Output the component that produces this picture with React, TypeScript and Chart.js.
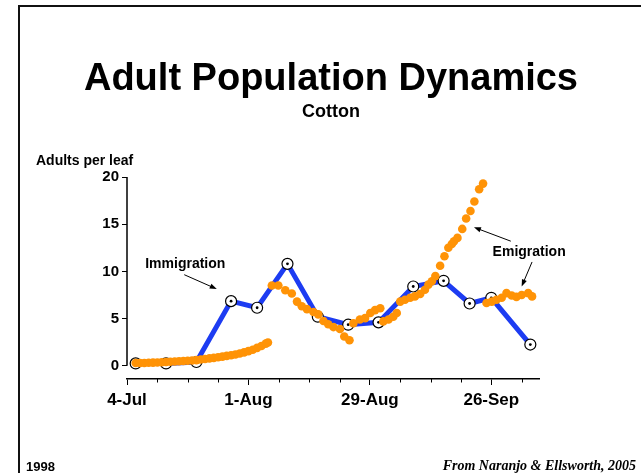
import React, { useEffect, useRef } from 'react';
import { Chart, registerables } from 'chart.js';

Chart.register(...registerables);

// ---- Data ----
const xTickDays = [0, 28, 56, 84];
const xTickLabels = ['4-Jul', '1-Aug', '29-Aug', '26-Sep'];
const yTickValues = [0, 5, 10, 15, 20];

// Observed adults per leaf (days after 4-Jul)
const blueDays = [2, 9, 16, 24, 30, 37, 44, 51, 58, 66, 73, 79, 84, 93];
const blueValues = [0.25, 0.25, 0.4, 6.85, 6.15, 10.8, 5.2, 4.35, 4.6, 8.4, 9.0, 6.6, 7.2, 2.25];

// Simulated adults per leaf (days after 4-Jul)
const orangeDays = [
  2, 3, 4, 5, 6, 7, 8, 9, 10, 11, 12, 13, 14, 15, 16, 17, 18, 19, 20, 21, 22, 23, 24, 25, 26, 27, 28, 29, 30, 31, 32, 32.5,
  33.4, 34.9, 36.5, 38.0, 39.2, 40.3, 41.5, 43.0, 44.1, 45.3, 46.4, 47.6, 49.1, 50.1, 51.3,
  52.2, 53.7, 54.9, 56.1, 57.2, 58.4,
  59.1, 60.3, 61.4, 62.2, 63.0, 64.1, 65.3, 66.4, 67.6, 68.7, 69.5, 70.3, 71.1,
  72.2, 73.2, 74.1, 74.9, 75.4, 76.2, 77.3, 78.2, 79.2, 80.1, 81.2, 82.1,
  82.9, 84.1, 85.2, 86.4, 87.5, 88.7, 89.8, 91.0, 92.5, 93.4,
];
const orangeValues = [
  0.3, 0.3, 0.3, 0.32, 0.33, 0.35, 0.37, 0.4, 0.42, 0.45, 0.48, 0.5, 0.53, 0.56, 0.6, 0.66, 0.72, 0.78, 0.84, 0.9, 0.97, 1.05, 1.12, 1.2, 1.3, 1.42, 1.55, 1.7, 1.9, 2.1, 2.35, 2.47,
  8.5, 8.5, 8.0, 7.65, 6.8, 6.3, 6.0, 5.7, 5.45, 4.74, 4.4, 4.1, 3.9, 3.1, 2.7,
  4.5, 4.9, 5.05, 5.6, 5.9, 6.1,
  4.7, 4.9, 5.2, 5.6, 6.8, 7.0, 7.2, 7.35, 7.6, 8.05, 8.6, 8.95, 9.5,
  10.6, 11.6, 12.5, 12.9, 13.2, 13.55, 14.5, 15.6, 16.4, 17.4, 18.7, 19.3,
  6.65, 6.8, 7.0, 7.2, 7.7, 7.45, 7.3, 7.5, 7.7, 7.35,
];

// Annotation labels (data coordinates)
const noteTexts = ['Immigration', 'Emigration'];
const noteDays = [4.2, 84.3];
const noteValues = [10.8, 12.0];
// Arrows: from -> to (data coordinates)
const arrowFromDays = [13.2, 88.5, 93.4];
const arrowFromValues = [9.65, 13.2, 11.0];
const arrowToDays = [20.7, 80.0, 91.0];
const arrowToValues = [8.13, 14.67, 8.4];

const SANS = '"Liberation Sans", Arial, Helvetica, sans-serif';
const BLUE = '#1d3cf2';
const ORANGE = '#ff9306';

const decorPlugin = {
  id: 'decor',
  beforeDatasetsDraw(chart: any) {
    const { ctx, scales } = chart;
    const x = scales.x;
    const y = scales.y;
    ctx.save();
    ctx.strokeStyle = '#000';
    ctx.lineWidth = 1.5;
    // y axis line from 20 down to 0
    const x0 = chart.chartArea.left;
    ctx.beginPath();
    ctx.moveTo(x0, y.getPixelForValue(20));
    ctx.lineTo(x0, y.getPixelForValue(0));
    ctx.stroke();
    // minor x ticks every week
    ctx.lineWidth = 1;
    for (let d = 7; d <= 91; d += 7) {
      if (d % 28 === 0) continue;
      const px = Math.round(x.getPixelForValue(d)) + 0.5;
      ctx.beginPath();
      ctx.moveTo(px, x.top);
      ctx.lineTo(px, x.top + 3.5);
      ctx.stroke();
    }
    ctx.restore();
  },
  afterDatasetsDraw(chart: any) {
    const { ctx, scales } = chart;
    const x = scales.x;
    const y = scales.y;
    ctx.save();
    ctx.fillStyle = '#000';
    ctx.font = `bold 14px ${SANS}`;
    ctx.textAlign = 'left';
    ctx.textBaseline = 'middle';
    noteTexts.forEach((t, i) => {
      ctx.fillText(t, x.getPixelForValue(noteDays[i]), y.getPixelForValue(noteValues[i]));
    });
    ctx.strokeStyle = '#000';
    ctx.lineWidth = 1;
    arrowFromDays.forEach((_, i) => {
      const fx = x.getPixelForValue(arrowFromDays[i]);
      const fy = y.getPixelForValue(arrowFromValues[i]);
      const tx = x.getPixelForValue(arrowToDays[i]);
      const ty = y.getPixelForValue(arrowToValues[i]);
      const ang = Math.atan2(ty - fy, tx - fx);
      const hl = 7;
      const hw = 2.6;
      ctx.beginPath();
      ctx.moveTo(fx, fy);
      ctx.lineTo(tx - Math.cos(ang) * hl * 0.8, ty - Math.sin(ang) * hl * 0.8);
      ctx.stroke();
      ctx.beginPath();
      ctx.moveTo(tx, ty);
      ctx.lineTo(tx - Math.cos(ang) * hl - Math.sin(ang) * hw, ty - Math.sin(ang) * hl + Math.cos(ang) * hw);
      ctx.lineTo(tx - Math.cos(ang) * hl + Math.sin(ang) * hw, ty - Math.sin(ang) * hl - Math.cos(ang) * hw);
      ctx.closePath();
      ctx.fill();
    });
    ctx.restore();
  },
};

export default function App() {
  const canvasRef = useRef<HTMLCanvasElement>(null);

  useEffect(() => {
    const canvas = canvasRef.current;
    if (!canvas) return;
    const bluePts = blueDays.map((d, i) => ({ x: d, y: blueValues[i] }));
    const orangePts = orangeDays.map((d, i) => ({ x: d, y: orangeValues[i] }));
    const chart = new Chart(canvas, {
      type: 'scatter',
      data: {
        datasets: [
          {
            label: 'Simulated',
            data: orangePts,
            showLine: false,
            pointRadius: 4.3,
            pointBackgroundColor: ORANGE,
            pointBorderWidth: 0,
            pointBorderColor: ORANGE,
            order: 0,
            clip: false,
          } as any,
          {
            label: 'Observed centers',
            data: bluePts,
            showLine: false,
            pointRadius: 1.4,
            pointBackgroundColor: '#000',
            pointBorderWidth: 0,
            order: 1,
            clip: false,
          } as any,
          {
            label: 'Observed',
            data: bluePts,
            showLine: true,
            borderColor: BLUE,
            borderWidth: 5,
            pointRadius: 5.5,
            pointBackgroundColor: '#fff',
            pointBorderColor: '#000',
            pointBorderWidth: 1.2,
            order: 2,
            clip: false,
          } as any,
        ],
      },
      options: {
        animation: false,
        responsive: false,
        events: [],
        layout: { padding: { left: 86, right: 102, top: 177, bottom: 54 } },
        plugins: {
          legend: { display: false },
          tooltip: { enabled: false },
          title: { display: false },
        },
        scales: {
          x: {
            type: 'linear',
            min: 0,
            max: 95,
            afterBuildTicks: (scale: any) => {
              scale.ticks = xTickDays.map((v) => ({ value: v }));
            },
            afterFit: (scale: any) => {
              scale.height = 40;
            },
            ticks: {
              autoSkip: false,
              maxRotation: 0,
              padding: 5,
              color: '#000',
              font: { family: SANS, size: 17, weight: 'bold' },
              callback: (v: any) => {
                const i = xTickDays.indexOf(Number(v));
                return i >= 0 ? xTickLabels[i] : '';
              },
            },
            grid: {
              display: true,
              drawOnChartArea: false,
              drawTicks: true,
              tickLength: 6,
              tickColor: '#000',
              tickWidth: 1,
            },
            border: { display: true, color: '#000', width: 1.5 },
          },
          y: {
            type: 'linear',
            min: -1.4,
            max: 20,
            afterBuildTicks: (scale: any) => {
              scale.ticks = yTickValues.map((v) => ({ value: v }));
            },
            afterFit: (scale: any) => {
              scale.width = 41;
            },
            ticks: {
              padding: 3,
              color: '#000',
              font: { family: SANS, size: 15, weight: 'bold' },
            },
            grid: {
              display: true,
              drawOnChartArea: false,
              drawTicks: true,
              tickLength: 5,
              tickColor: '#000',
              tickWidth: 1,
            },
            border: { display: false },
          },
        },
      } as any,
      plugins: [decorPlugin],
    });
    return () => chart.destroy();
  }, []);

  const text = (extra: React.CSSProperties): React.CSSProperties => ({
    position: 'absolute',
    fontFamily: SANS,
    fontWeight: 'bold',
    color: '#000',
    whiteSpace: 'nowrap',
    margin: 0,
    ...extra,
  });

  return (
    <div
      style={{
        position: 'fixed',
        left: 0,
        top: 0,
        width: 641,
        height: 473,
        background: '#fff',
        overflow: 'hidden',
      }}
    >
      <div
        style={{
          position: 'absolute',
          left: 18,
          top: 5,
          right: -10,
          bottom: -10,
          borderLeft: '2px solid #111',
          borderTop: '2px solid #111',
        }}
      />
      <canvas
        ref={canvasRef}
        width={641}
        height={473}
        style={{ position: 'absolute', left: 0, top: 0 }}
      />
      <div style={text({ left: 0, width: 662, top: 58, fontSize: 38, lineHeight: '38px', textAlign: 'center' })}>
        Adult Population Dynamics
      </div>
      <div style={text({ left: 0, width: 662, top: 102, fontSize: 18, lineHeight: '18px', textAlign: 'center' })}>
        Cotton
      </div>
      <div style={text({ left: 36, top: 153, fontSize: 14, lineHeight: '14px' })}>Adults per leaf</div>
      <div style={text({ left: 26, top: 460, fontSize: 13, lineHeight: '13px' })}>1998</div>
      <div
        style={text({
          right: 5,
          top: 459,
          fontSize: 14,
          lineHeight: '14px',
          fontFamily: '"Liberation Serif", "Times New Roman", serif',
          fontStyle: 'italic',
        })}
      >
        From Naranjo &amp; Ellsworth, 2005
      </div>
    </div>
  );
}
